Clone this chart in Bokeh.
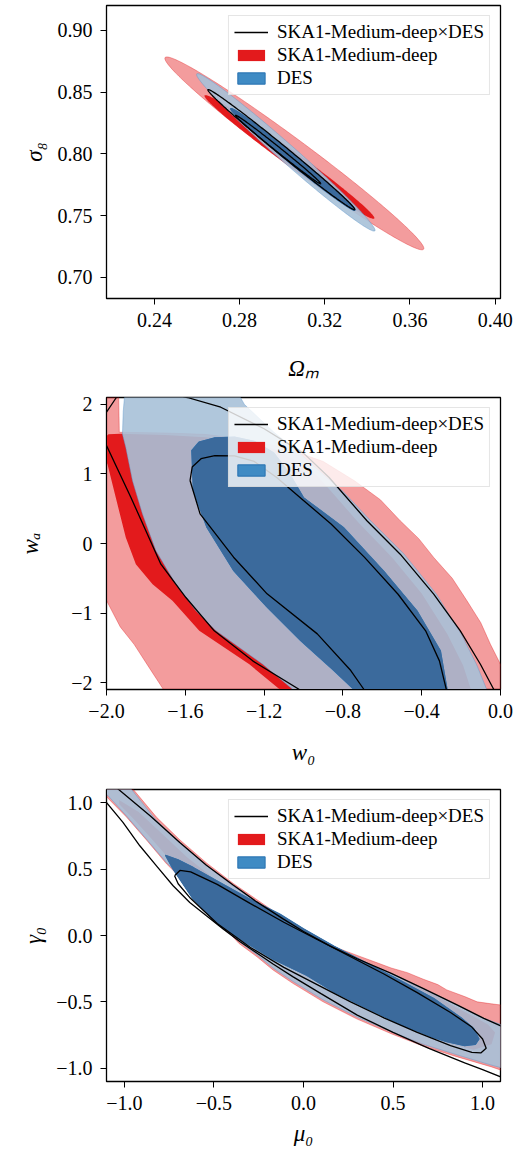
import numpy as np
from bokeh.plotting import figure
from bokeh.models import Range1d, FixedTicker, Legend, LegendItem
from bokeh.layouts import column
from bokeh.embed import file_html
from bokeh.resources import INLINE

# ---------------- legend / series names ----------------
legend_labels = ["SKA1-Medium-deep\u00d7DES", "SKA1-Medium-deep", "DES"]

# ---------------- panel 1: Omega_m - sigma_8 (Gaussian ellipses) ----------------
p1_xticks = [0.24, 0.28, 0.32, 0.36, 0.40]
p1_xticklabels = ["0.24", "0.28", "0.32", "0.36", "0.40"]
p1_yticks = [0.70, 0.75, 0.80, 0.85, 0.90]
p1_yticklabels = ["0.70", "0.75", "0.80", "0.85", "0.90"]
# contour order: SKA 2sig, SKA 1sig, DES 2sig, DES 1sig, combined 2sig, combined 1sig
p1_cx = [0.3057, 0.3034, 0.3017, 0.3050, 0.2996, 0.2981]
p1_cy = [0.8004, 0.7975, 0.8012, 0.7955, 0.8034, 0.8035]
p1_hx = [0.0608, 0.0399, 0.0419, 0.0292, 0.0345, 0.0200]
p1_hy = [0.0780, 0.0500, 0.0637, 0.0412, 0.0486, 0.0277]
p1_rho = [-0.985, -0.989, -0.989, -0.993, -0.995, -0.996]

# ---------------- panel 2: w0 - wa ----------------
p2_xticks = [-2.0, -1.6, -1.2, -0.8, -0.4, 0.0]
p2_xticklabels = ["\u22122.0", "\u22121.6", "\u22121.2", "\u22120.8", "\u22120.4", "0.0"]
p2_yticks = [-2, -1, 0, 1, 2]
p2_yticklabels = ["\u22122", "\u22121", "0", "1", "2"]

p2_ska2_x = [-2.3, -1.94, -1.935, -1.7, -1.5, -1.3, -1.1, -0.9, -0.74, -0.61, -0.509, -0.415,
             -0.339, -0.245, -0.17, -0.10, -0.051, 0.0, 0.06, 0.1, -1.62, -1.67, -1.711, -1.78,
             -1.86, -1.93, -2.0, -2.3]
p2_ska2_y = [2.4, 2.4, 1.60, 1.59, 1.57, 1.50, 1.38, 1.18, 0.90, 0.63, 0.327, 0.07,
             -0.201, -0.50, -0.825, -1.14, -1.45, -1.737, -2.2, -2.5, -2.5, -2.3, -2.1, -1.8,
             -1.45, -1.2, -0.82, -0.2]

p2_ska1_x = [-2.02, -1.99, -1.93, -1.7, -1.5, -1.3, -1.15, -1.03, -0.93, -0.86, -0.72, -0.55, -0.40,
             -0.27, -0.19, -0.15, -0.14, -1.1, -1.12, -1.275, -1.529, -1.665, -1.766, -1.851, -1.902,
             -1.953, -1.995, -2.02]
p2_ska1_y = [1.50, 1.57, 1.58, 1.56, 1.53, 1.47, 1.36, 1.18, 0.97, 0.75, 0.30, -0.20, -0.72,
             -1.30, -1.75, -2.1, -2.4, -2.4, -2.1, -1.737, -1.256, -0.825, -0.586, -0.30, 0.086,
             0.66, 1.14, 1.30]

p2_des2_x = [-1.90, -1.915, -1.919, -1.902, -1.868, -1.817, -1.749, -1.648, -1.546, -1.444, -1.207,
             -1.054, -0.95, -0.04, -0.07, -0.12, -0.2, -0.325, -0.49, -0.66, -0.80, -0.89, -1.02,
             -1.15, -1.30, -1.38]
p2_des2_y = [2.4, 1.9, 1.573, 1.381, 0.902, 0.421, -0.105, -0.586, -0.968, -1.256, -1.737,
             -2.1, -2.4, -2.4, -2.1, -1.75, -1.3, -0.73, -0.15, 0.33, 0.75, 0.97, 1.30,
             1.6, 2.0, 2.4]

p2_des1_x = [-1.567, -1.53, -1.45, -1.35, -1.25, -1.15, -1.07, -1.0, -0.797, -0.594, -0.424, -0.305,
             -0.271, -0.3, -0.7, -0.744, -0.846, -1.015, -1.185, -1.355, -1.491, -1.559]
p2_des1_y = [1.338, 1.46, 1.52, 1.53, 1.47, 1.30, 1.0, 0.66, 0.23, -0.393, -0.968, -1.544,
             -2.1, -2.5, -2.5, -2.1, -1.827, -1.396, -0.916, -0.388, 0.235, 0.763]

p2_comb2_x = [-1.021, -1.258, -1.453, -1.597, -1.724, -1.876, -2.0, -2.06, -2.0, -1.95, -1.8, -1.59,
              -1.42, -1.2, -1.0, -0.87, -0.678, -0.509, -0.339, -0.204, -0.102, -0.034, -0.3, -0.8,
              -1.021]
p2_comb2_y = [-2.1, -1.688, -1.256, -0.777, -0.298, 0.662, 1.41, 1.65, 1.89, 2.1, 2.25, 2.1,
              1.96, 1.65, 1.3, 0.95, 0.327, -0.154, -0.729, -1.256, -1.737, -2.1, -2.5, -2.4,
              -2.1]

p2_comb1_x = [-1.576, -1.565, -1.52, -1.45, -1.35, -1.25, -1.136, -1.0, -0.86, -0.69, -0.52, -0.38,
              -0.31, -0.275, -0.35, -0.65, -0.693, -0.76, -0.93, -1.185, -1.355, -1.525, -1.576]
p2_comb1_y = [0.906, 1.10, 1.22, 1.265, 1.26, 1.18, 0.95, 0.62, 0.28, -0.2, -0.73, -1.256,
              -1.688, -2.1, -2.5, -2.5, -2.1, -1.827, -1.30, -0.724, -0.197, 0.427, 0.906]

# ---------------- panel 3: mu0 - gamma0 ----------------
p3_xticks = [-1.0, -0.5, 0.0, 0.5, 1.0]
p3_xticklabels = ["\u22121.0", "\u22120.5", "0.0", "0.5", "1.0"]
p3_yticks = [-1.0, -0.5, 0.0, 0.5, 1.0]
p3_yticklabels = ["\u22121.0", "\u22120.5", "0.0", "0.5", "1.0"]

p3_ska2_x = [-1.20, -1.05, -0.95, -0.82, -0.69, -0.54, -0.39, -0.26, -0.12, 0.0, 0.11, 0.20, 0.30,
             0.40, 0.49, 0.58, 0.67, 0.75, 0.80, 0.90, 0.97, 1.05, 1.20,
             1.20, 1.05, 0.86, 0.67, 0.49, 0.30, 0.11, -0.06, -0.17, -0.26, -0.36, -0.45, -0.52,
             -0.635, -0.765, -0.877, -0.99, -1.10, -1.25]
p3_ska2_y = [1.35, 1.20, 1.10, 0.89, 0.72, 0.545, 0.39, 0.27, 0.14, 0.045, -0.05, -0.10, -0.15,
             -0.20, -0.245, -0.28, -0.33, -0.37, -0.41, -0.46, -0.50, -0.515, -0.54,
             -1.06, -0.99, -0.915, -0.835, -0.74, -0.63, -0.50, -0.36, -0.26, -0.16, -0.06, 0.07,
             0.20, 0.365, 0.54, 0.72, 0.895, 1.045, 1.22]

p3_ska1_x = [-1.03, -0.92, -0.80, -0.65, -0.50, -0.30, -0.10, 0.10, 0.30, 0.50, 0.58, 0.66, 0.75,
             0.85, 0.95, 1.03, 1.07, 1.05, 0.95, 0.80, 0.60, 0.40, 0.20, 0.0, -0.20, -0.40, -0.55,
             -0.70, -0.85, -0.95, -1.03]
p3_ska1_y = [1.02, 0.93, 0.78, 0.59, 0.43, 0.25, 0.09, -0.07, -0.20, -0.31, -0.35, -0.40, -0.46,
             -0.54, -0.61, -0.67, -0.73, -0.82, -0.86, -0.81, -0.71, -0.58, -0.44, -0.30, -0.13,
             0.05, 0.29, 0.50, 0.73, 0.88, 0.99]

p3_des2_x = [-1.20, -1.05, -0.96, -0.83, -0.70, -0.55, -0.40, -0.27, -0.12, 0.0, 0.15, 0.30, 0.49,
             0.67, 0.86, 1.0, 1.2,
             1.2, 1.045, 0.86, 0.67, 0.49, 0.30, 0.11, -0.06, -0.17, -0.26, -0.36, -0.45, -0.523,
             -0.635, -0.765, -0.877, -0.989, -1.091, -1.25]
p3_des2_y = [1.33, 1.19, 1.10, 0.88, 0.71, 0.535, 0.38, 0.26, 0.13, 0.035, -0.08, -0.175, -0.285,
             -0.40, -0.525, -0.62, -0.72,
             -1.03, -0.975, -0.90, -0.82, -0.725, -0.615, -0.485, -0.345, -0.245, -0.145, -0.045,
             0.08, 0.224, 0.375, 0.55, 0.727, 0.902, 1.053, 1.23]

p3_des1_x = [-0.771, -0.70, -0.616, -0.467, -0.30, -0.132, 0.0, 0.169, 0.356, 0.542, 0.728, 0.88,
             0.95, 0.98, 0.96, 0.90, 0.80, 0.728, 0.542, 0.356, 0.169, 0.017, -0.17, -0.356, -0.486,
             -0.616, -0.728]
p3_des1_y = [0.605, 0.57, 0.513, 0.40, 0.274, 0.161, 0.05, -0.08, -0.21, -0.34, -0.475, -0.62,
             -0.70, -0.78, -0.82, -0.83, -0.80, -0.77, -0.67, -0.55, -0.425, -0.30, -0.178, -0.027,
             0.098, 0.274, 0.50]

p3_comb2_x = [-1.30, -1.032, -0.855, -0.691, -0.542, -0.393, -0.263, -0.114, 0.0, 0.15, 0.30, 0.49,
              0.67, 0.86, 1.007, 1.2, 1.35, 1.2, 1.0, 0.9, 0.7, 0.5, 0.3, 0.1, -0.06, -0.17, -0.263,
              -0.356, -0.449, -0.542, -0.635, -0.728, -0.821, -0.914, -1.008, -1.1006, -1.25, -1.30]
p3_comb2_y = [1.45, 1.10, 0.90, 0.70, 0.53, 0.38, 0.255, 0.125, 0.03, -0.08, -0.175, -0.285,
              -0.40, -0.525, -0.625, -0.74, -0.95, -1.12, -1.01, -0.96, -0.85, -0.73, -0.60, -0.44,
              -0.31, -0.215, -0.13, -0.045, 0.05, 0.148, 0.249, 0.375, 0.525, 0.676, 0.852, 1.003,
              1.25, 1.45]

p3_comb1_x = [-0.72, -0.69, -0.63, -0.482, -0.296, -0.110, 0.076, 0.263, 0.449, 0.635, 0.821, 0.94,
              1.00, 1.02, 0.99, 0.94, 0.821, 0.635, 0.449, 0.263, 0.076, -0.110, -0.296, -0.482,
              -0.631, -0.70, -0.72]
p3_comb1_y = [0.45, 0.49, 0.48, 0.385, 0.24, 0.10, -0.03, -0.16, -0.29, -0.43, -0.58, -0.69,
              -0.78, -0.85, -0.885, -0.88, -0.83, -0.73, -0.62, -0.50, -0.37, -0.24, -0.09, 0.09,
              0.28, 0.39, 0.45]

# ---------------- styles ----------------
RED = "#e31a1c"
PINK_ALPHA = 0.43
LBLUE = "#a7c1d8"
LBLUE_ALPHA = 0.9
DBLUE = "#3b6a9c"
LEG_BLUE = "#3f8bc4"
LEG_BLUE_EDGE = "#2f78b5"
SERIF = "Liberation Serif"


def ellipse(cx, cy, hx, hy, rho):
    t = np.linspace(0, 2 * np.pi, 241)
    x = cx + hx * np.cos(t)
    y = cy + hy * (rho * np.cos(t) + np.sqrt(1 - rho * rho) * np.sin(t))
    return list(x), list(y)


def make_fig(xr, yr, xt, xtl, yt, ytl, xlabel, ylabel, fh, top, bottom, xstand, ystand):
    p = figure(frame_width=394, frame_height=fh, x_range=Range1d(*xr), y_range=Range1d(*yr),
               output_backend="svg", toolbar_location=None,
               min_border_left=106, min_border_right=20, min_border_top=top,
               min_border_bottom=bottom)
    p.grid.visible = False
    p.outline_line_color = "black"
    p.outline_line_width = 1.3
    p.outline_line_alpha = 1.0
    p.background_fill_color = "white"
    p.border_fill_color = "white"
    p.xaxis.ticker = FixedTicker(ticks=xt)
    p.yaxis.ticker = FixedTicker(ticks=yt)
    p.xaxis.major_label_overrides = {k: v for k, v in zip(xt, xtl)}
    p.yaxis.major_label_overrides = {k: v for k, v in zip(yt, ytl)}
    for ax in (p.xaxis[0], p.yaxis[0]):
        ax.axis_line_color = "black"
        ax.axis_line_width = 1.0
        ax.major_tick_in = 0
        ax.major_tick_out = 6
        ax.major_tick_line_color = "black"
        ax.major_tick_line_width = 1.0
        ax.minor_tick_line_color = None
        ax.major_label_text_font = SERIF
        ax.major_label_text_font_size = "20px"
        ax.major_label_text_color = "black"
        ax.axis_label_text_font = SERIF
        ax.axis_label_text_font_size = "23px"
        ax.axis_label_text_font_style = "italic"
        ax.axis_label_text_color = "black"
    p.xaxis.major_label_standoff = 8
    p.yaxis.major_label_standoff = 8
    p.xaxis.axis_label = xlabel
    p.yaxis.axis_label = ylabel
    p.xaxis.axis_label_standoff = xstand
    p.yaxis.axis_label_standoff = ystand
    return p


def add_contours(p, ska2, ska1, des2, des1, comb2, comb1):
    p.patch(ska2[0], ska2[1], fill_color=RED, fill_alpha=PINK_ALPHA,
            line_color=RED, line_alpha=0.45, line_width=0.8)
    r_red = p.patch(ska1[0], ska1[1], fill_color=RED, fill_alpha=1.0, line_color=None)
    p.patch(des2[0], des2[1], fill_color=LBLUE, fill_alpha=LBLUE_ALPHA,
            line_color="#5e98cc", line_alpha=0.55, line_width=0.8)
    # legend proxy for DES: same 1-sigma shape, fully covered by the opaque dark fill below
    r_blue = p.patch(des1[0], des1[1], fill_color=LEG_BLUE, line_color=LEG_BLUE_EDGE,
                     line_width=1.2)
    p.patch(des1[0], des1[1], fill_color=DBLUE, fill_alpha=1.0, line_color=DBLUE, line_width=0.8)
    r_line = p.line(comb2[0], comb2[1], line_color="black", line_width=1.3)
    p.line(comb1[0], comb1[1], line_color="black", line_width=1.3)

    leg = Legend(items=[LegendItem(label=legend_labels[0], renderers=[r_line]),
                        LegendItem(label=legend_labels[1], renderers=[r_red]),
                        LegendItem(label=legend_labels[2], renderers=[r_blue])],
                 location="top_right", margin=10, padding=5, spacing=1,
                 glyph_width=34, glyph_height=14, label_standoff=9, label_height=18,
                 label_text_font=SERIF, label_text_font_size="19px", label_text_color="black",
                 border_line_color="#cccccc", border_line_width=1.2,
                 background_fill_color="white", background_fill_alpha=0.8)
    p.add_layout(leg)


# ---------------- panel 1 ----------------
p1 = make_fig((0.2175, 0.4025), (0.683, 0.920), p1_xticks, p1_xticklabels, p1_yticks,
              p1_yticklabels, "\u03a9\u2098", "\u03c3\u2088", 293, 5, 86, 26, 8)
p1_shapes = [ellipse(p1_cx[i], p1_cy[i], p1_hx[i], p1_hy[i], p1_rho[i]) for i in range(6)]
add_contours(p1, *p1_shapes)

# ---------------- panel 2 ----------------
p2 = make_fig((-2.0, 0.0), (-2.1, 2.1), p2_xticks, p2_xticklabels, p2_yticks, p2_yticklabels,
              "w\u2080", "w\u2090", 292, 13, 80, 19, 25)
add_contours(p2, (p2_ska2_x, p2_ska2_y), (p2_ska1_x, p2_ska1_y), (p2_des2_x, p2_des2_y),
             (p2_des1_x, p2_des1_y), (p2_comb2_x, p2_comb2_y), (p2_comb1_x, p2_comb1_y))

# ---------------- panel 3 ----------------
p3 = make_fig((-1.1, 1.1), (-1.1, 1.1), p3_xticks, p3_xticklabels, p3_yticks, p3_yticklabels,
              "\u03bc\u2080", "\u03b3\u2080", 292, 20, 68, 8, 7)
add_contours(p3, (p3_ska2_x, p3_ska2_y), (p3_ska1_x, p3_ska1_y), (p3_des2_x, p3_des2_y),
             (p3_des1_x, p3_des1_y), (p3_comb2_x, p3_comb2_y), (p3_comb1_x, p3_comb1_y))

layout = column(p1, p2, p3)
open("out.html", "w").write(file_html(layout, INLINE))
